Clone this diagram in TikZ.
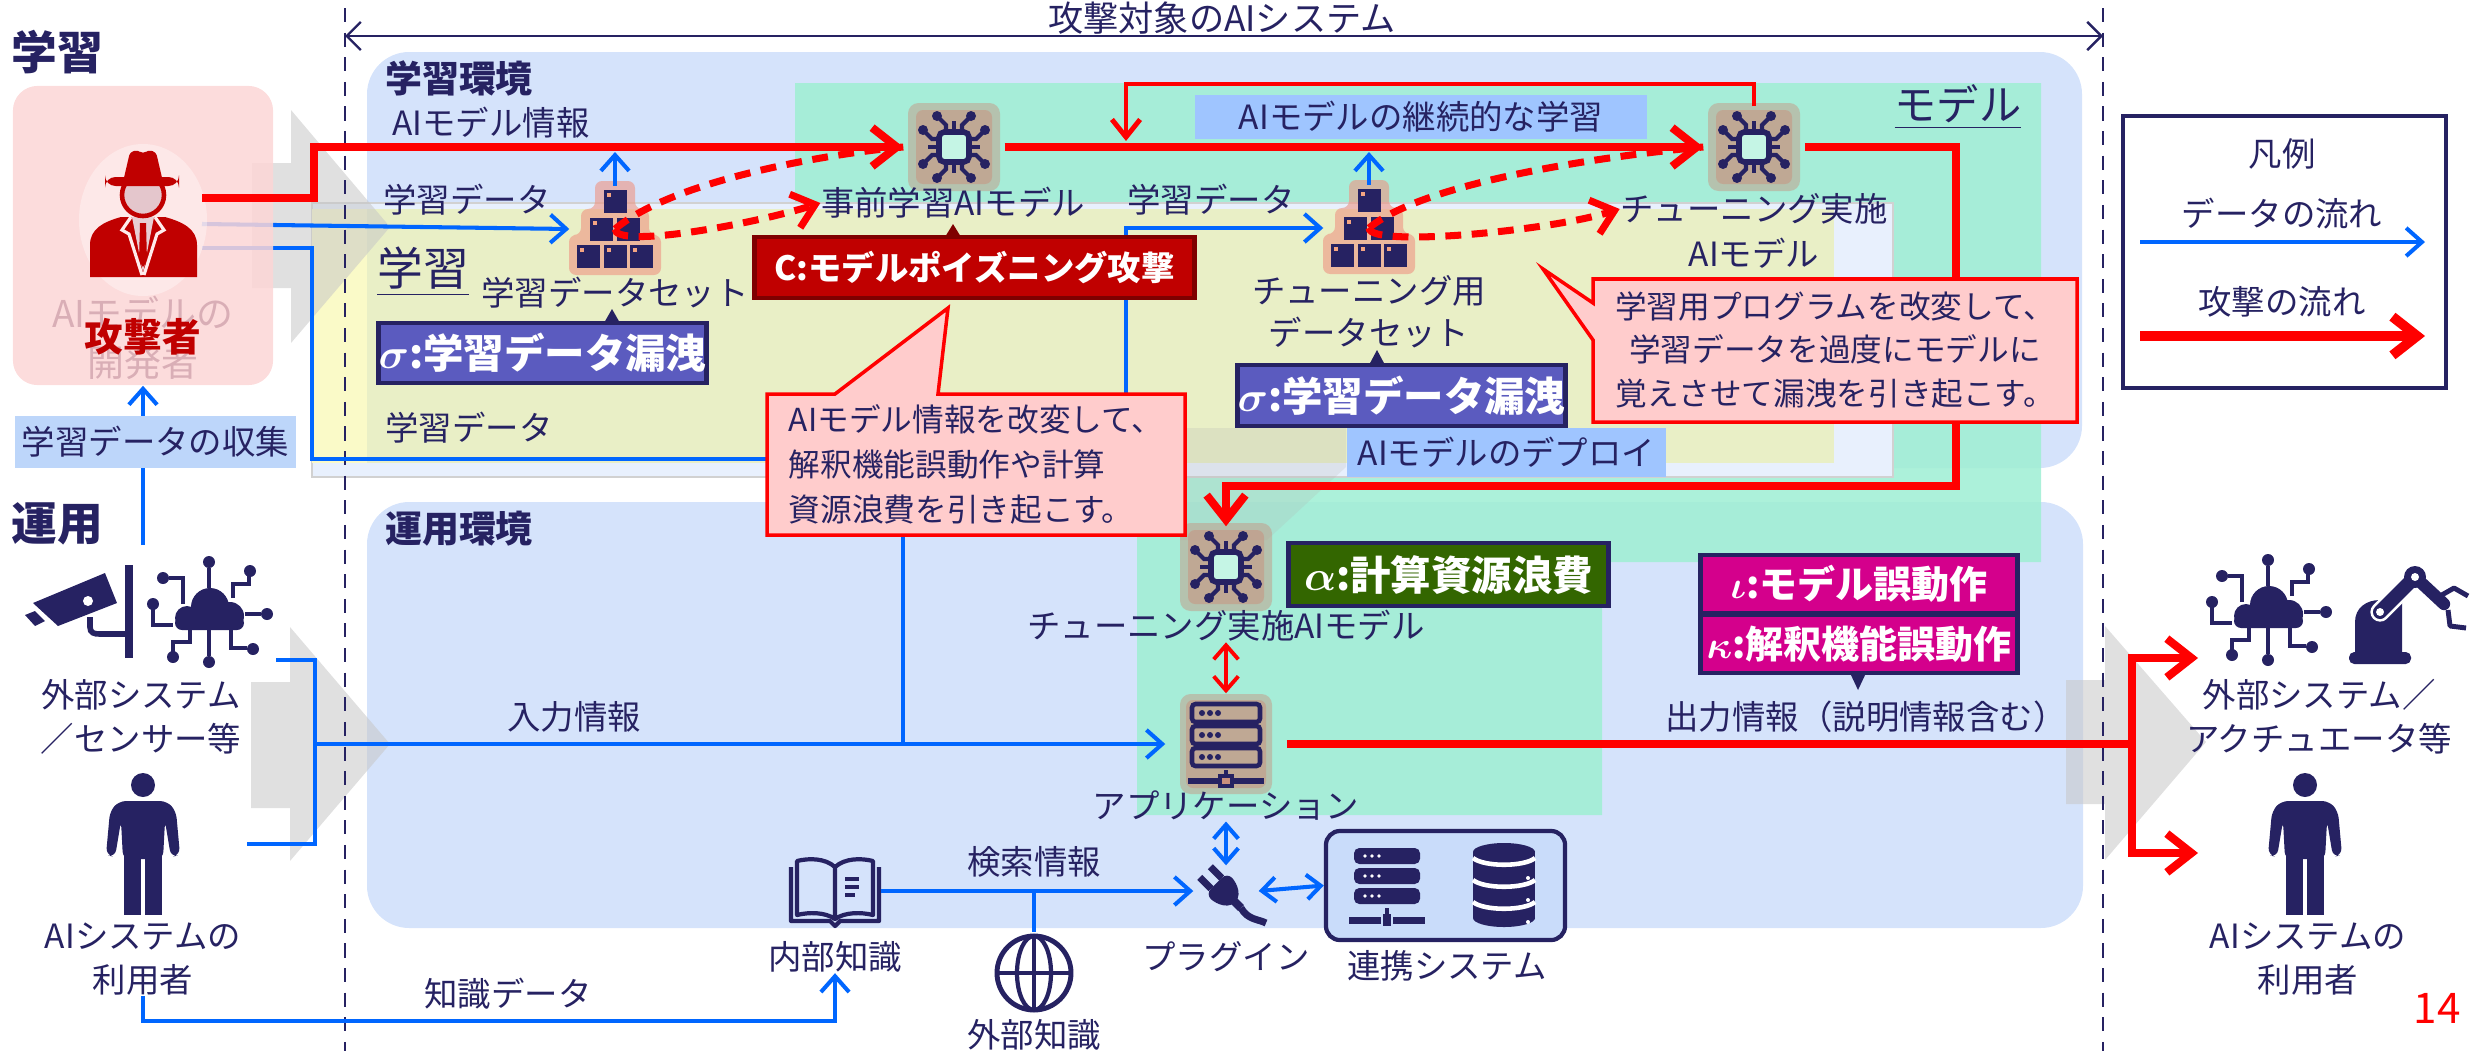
\documentclass[tikz,border=0pt]{standalone}
\usepackage{fontspec}
\usepackage{bm}
\setmainfont{Noto Sans CJK JP}
\usetikzlibrary{arrows.meta,positioning}

\definecolor{ink}{HTML}{262262}
\definecolor{flow}{HTML}{0066FF}
\definecolor{atk}{HTML}{FF0000}
\definecolor{envbg}{HTML}{D5E3FB}
\definecolor{mint}{HTML}{9EEFD3}
\definecolor{learnbg}{HTML}{E9EFC6}
\definecolor{palebg}{HTML}{FAFAC8}
\definecolor{tagbg}{HTML}{9FC5FF}
\definecolor{collbg}{HTML}{BDD6FA}
\definecolor{linkbg}{HTML}{C9DCFA}
\definecolor{notebg}{HTML}{FFCCCC}
\definecolor{poison}{HTML}{C00000}
\definecolor{poisonedge}{HTML}{7F0000}
\definecolor{leak}{HTML}{5B5BBF}
\definecolor{waste}{HTML}{336600}
\definecolor{misb}{HTML}{D4008C}
\definecolor{halo}{HTML}{C98F7C}
\definecolor{halotwo}{HTML}{EE9482}
\definecolor{accent}{HTML}{F4A582}
\definecolor{spybg}{HTML}{FCD6D6}
\definecolor{faded}{HTML}{D9AEB6}

\tikzset{
  lbl/.style={text=ink,inner sep=0pt,align=center,font=\fontsize{9.5}{12.5}\selectfont},
  ttl/.style={text=ink,inner sep=0pt,font=\fontsize{10.5}{12}\selectfont\bfseries},
  tag/.style={draw=ink,line width=1.4pt,text=white,inner sep=0pt,font=\fontsize{11.5}{13}\selectfont\bfseries},
  bluetag/.style={fill=tagbg,text=ink,inner sep=0pt,font=\fontsize{9.5}{12}\selectfont},
  spot/.style={inner sep=0pt,minimum width=1cm,minimum height=.8cm},
  dataflow/.style={draw=flow,line width=1.15pt,-{Straight Barb[length=4.5pt,width=8pt]}},
  dataline/.style={draw=flow,line width=1.15pt},
  databoth/.style={draw=flow,line width=1.15pt,{Straight Barb[length=4pt,width=7pt]}-{Straight Barb[length=4pt,width=7pt]}},
  atkflow/.style={draw=atk,line width=2.3pt,-{Straight Barb[length=7pt,width=11pt]}},
  atkthin/.style={draw=atk,line width=1.4pt,-{Straight Barb[length=5pt,width=8pt]}},
  atkboth/.style={draw=atk,line width=1.1pt,{Straight Barb[length=4pt,width=7pt]}-{Straight Barb[length=4pt,width=7pt]}},
  atkdash/.style={draw=atk,line width=2pt,dash pattern=on 4.5pt off 3pt},
  greyarrow/.style={fill=black!22,opacity=.55},
  chip/.pic={
    \fill[halo,opacity=.45,rounded corners=3pt] (-46,-44) rectangle (46,44);
    \fill[halo,opacity=.5,rounded corners=2pt] (-38,-37) rectangle (38,37);
    \draw[ink,line width=1.6pt,fill=mint!60!white,rounded corners=1.5pt] (-15,-15) rectangle (15,15);
    \foreach \r in {0,90,180,270}{
      \begin{scope}[rotate=\r]
        \draw[ink,line width=1.2pt] (0,-15) -- (0,-26);
        \draw[ink,line width=1.2pt] (-8,-15) -- (-8,-22) -- (-15,-29);
        \draw[ink,line width=1.2pt] (8,-15) -- (8,-22) -- (15,-29);
        \fill[ink] (-17,-31) circle (5);
        \fill[ink] (17,-31) circle (5);
      \end{scope}}
  },
  stack/.pic={
    \fill[halotwo,opacity=.6,rounded corners=2pt] (-20,-48) -- (20,-48) -- (20,-20) -- (34,-20) -- (34,6) -- (46,6) -- (46,46) -- (-46,46) -- (-46,6) -- (-34,6) -- (-34,-20) -- (-20,-20) -- cycle;
    \foreach \x/\y in {0/-28,-14/0,13/0,-27/27,0/27,26/27}{
      \fill[ink] (\x-11.5,\y-11.5) rectangle (\x+11.5,\y+11.5);
      \fill[accent] (\x-8,\y-8) rectangle (\x-4,\y-4);
    }
  },
  server/.pic={
    \fill[halo,opacity=.45,rounded corners=3pt] (-46,-50) rectangle (46,50);
    \fill[halo,opacity=.5,rounded corners=2pt] (-40,-44) rectangle (40,44);
    \foreach \k in {0,1,2}{
      \draw[ink,line width=1.3pt,rounded corners=1pt] (-34,-40+22*\k) rectangle (34,-22+22*\k);
      \foreach \d in {-24,-16,-8} \fill[ink] (\d,-31+22*\k) circle (3);
    }
    \draw[ink,line width=1.3pt] (0,26) -- (0,33);
    \draw[ink,line width=1.6pt] (-38,37) -- (38,37);
    \draw[ink,line width=1.2pt,fill=halo] (-6,32) rectangle (6,42);
  },
  plug/.pic={
    \begin{scope}[rotate=45]
      \fill[ink,rounded corners=2pt] (-15,-8) -- (15,-8) -- (15,6) -- (6,19) -- (-6,19) -- (-15,6) -- cycle;
      \fill[ink] (-11,-24) rectangle (-4,-8);
      \fill[ink] (4,-24) rectangle (11,-8);
      \draw[ink,line width=2.4pt] (0,17) -- (0,27);
    \end{scope}
    \draw[ink,line width=2pt] (19,19) .. controls (26,31) and (36,30) .. (44,34);
  },
  book/.pic={
    \draw[ink,line width=1.2pt,line join=round] (-44,-24) -- (-44,30) -- (-5,30) -- (0,35) -- (5,30) -- (44,30) -- (44,-24);
    \draw[ink,line width=1.2pt,line join=round] (0,-24) .. controls (-10,-33) and (-26,-33) .. (-38,-30) -- (-38,24) .. controls (-26,21) and (-10,21) .. (0,28) .. controls (10,21) and (26,21) .. (38,24) -- (38,-30) .. controls (26,-33) and (10,-33) .. (0,-24) -- (0,28);
    \foreach \y/\w in {-12/24,-4/24,4/20} \draw[ink,line width=1.2pt] (10,\y) -- (\w,\y);
  },
  globe/.pic={
    \draw[ink,line width=1.4pt] (0,0) circle (37);
    \draw[ink,line width=1.2pt] (0,0) ellipse (17 and 37);
    \draw[ink,line width=1.2pt] (0,-37) -- (0,37) (-37,0) -- (37,0);
  },
  rack/.pic={
    \foreach \k in {0,1,2}{
      \fill[ink,rounded corners=1.5pt] (-33,-36+20*\k) rectangle (33,-20+20*\k);
      \foreach \d in {-22,-15,-8} \fill[white] (\d,-28+20*\k) circle (1.8);
    }
    \draw[ink,line width=1.3pt] (0,24) -- (0,36);
    \fill[ink] (-38,33) rectangle (-6,40);
    \fill[ink] (6,33) rectangle (38,40);
    \fill[ink] (-4,30) rectangle (4,42);
  },
  dbstack/.pic={
    \fill[ink] (0,-32) ellipse (31 and 9);
    \fill[ink] (-31,-32) rectangle (31,34);
    \fill[ink] (0,34) ellipse (31 and 9);
    \foreach \y in {-26,-4,18}
      \draw[white,line width=1.3pt] (-31,\y) .. controls (-20,\y+9) and (20,\y+9) .. (31,\y);
    \foreach \y in {-6,16,38} \fill[white] (24,\y) circle (2);
  },
  camera/.pic={
    \fill[ink] (-47,-2) -- (25,-32) -- (37,-2) -- (-22,21) -- cycle;
    \fill[ink] (-55,10) -- (-45,6) -- (-35,16) -- (-45,21) -- cycle;
    \fill[white] (8,-4) circle (5);
    \draw[ink,line width=1.6pt] (10,12) -- (10,22) .. controls (10,28) and (14,29) .. (20,29) -- (47,29);
    \fill[ink] (45,-40) rectangle (53,53);
  },
  cloudnet/.pic={
    \fill[ink] (-22,6) circle (12);
    \fill[ink] (1,-5) circle (19);
    \fill[ink] (21,4) circle (14);
    \fill[ink,rounded corners=2pt] (-34,4) rectangle (35,18);
    \begin{scope}[ink,line width=1.2pt]
      \draw (0,-24) -- (0,-44);
      \draw (-26,-8) -- (-26,-34) -- (-40,-34);
      \draw (24,-14) -- (24,-28) -- (40,-28) -- (40,-36);
      \draw (-56,-4) -- (-56,13) -- (-36,13);
      \draw (36,2) -- (52,2);
      \draw (0,18) -- (0,44);
      \draw (-19,18) -- (-19,30) -- (-36,30) -- (-36,40);
      \draw (22,18) -- (22,36) -- (38,36);
    \end{scope}
    \foreach \p in {(0,-50),(-46,-34),(41,-41),(-56,-8),(58,2),(0,50),(-36,45),(44,37)} \fill[ink] \p circle (6);
  },
  person/.pic={
    \fill[ink] (0,0) circle (12);
    \fill[ink,rounded corners=2pt] (-24,16) -- (24,16) -- (33,26) -- (37,70) -- (28,72) -- (22,36) -- (20,74) -- (-20,74) -- (-22,36) -- (-28,72) -- (-37,70) -- (-33,26) -- cycle;
    \fill[ink] (-19,70) rectangle (-2,130);
    \fill[ink] (2,70) rectangle (19,130);
  },
  robot/.pic={
    \fill[ink,rounded corners=1.5pt] (-31,32) rectangle (31,44);
    \fill[ink] (-25,32) -- (-25,2) .. controls (-25,-12) and (-14,-20) .. (0,-20) -- (22,-20) -- (22,32) -- cycle;
    \draw[white,line width=5.5pt,line cap=round] (0,-8) -- (35,-43);
    \draw[ink,line width=4pt,line cap=round] (0,-8) -- (35,-43);
    \fill[white] (0,-8) circle (4);
    \draw[ink,line width=3.5pt,line cap=round] (35,-43) -- (64,-16);
    \fill[ink] (35,-43) circle (11);
    \fill[white] (35,-43) circle (4);
    \draw[ink,line width=1.4pt,line join=round] (60,-24) -- (74,-32) -- (88,-24);
    \draw[ink,line width=1.4pt,line join=round] (68,-10) -- (70,6) -- (86,8);
  },
  spy/.pic={
    \fill[white,opacity=.35] (0,5) ellipse (64 and 76);
    \fill[poison] (-53,62) -- (-53,30) .. controls (-53,14) and (-40,7) .. (-22,2) -- (22,2) .. controls (40,7) and (54,14) .. (54,30) -- (54,62) -- cycle;
    \fill[faded!60!white] (-11,2) -- (11,2) -- (0,58) -- cycle;
    \fill[poison] (-3,8) -- (3,8) -- (4,46) -- (0,52) -- (-4,46) -- cycle;
    \draw[white!70!pink,line width=.9pt] (-12,2) -- (-21,15) -- (-14,19) -- (-1,60);
    \draw[white!70!pink,line width=.9pt] (12,2) -- (21,15) -- (14,19) -- (1,60);
    \draw[poison,line width=1.3pt,fill=faded!70!white] (0,-20) circle (21);
    \fill[poison,rounded corners=1pt] (-20,-33) -- (-13,-63) -- (-5,-65) -- (0,-61) -- (5,-65) -- (13,-63) -- (20,-33) -- cycle;
    \fill[poison,rounded corners=3pt] (-38,-38) rectangle (36,-29);
  },
}

\begin{document}
\begin{tikzpicture}[x=0.01cm,y=-0.01cm]
\useasboundingbox (0,0) rectangle (2470,1051);

% environments and model area
\fill[envbg,rounded corners=12pt] (367,52) rectangle (2082,468);
\fill[envbg,rounded corners=12pt] (367,502) rectangle (2083,928);
\fill[mint,opacity=.85] (795,83) -- (2041,83) -- (2041,562) -- (1602,562) -- (1602,815) -- (1137,815) -- (1137,470) -- (795,470) -- cycle;
\filldraw[fill=envbg!55!white,draw=black!18,line width=.8pt] (312,203) rectangle (1893,477);
\fill[learnbg] (312,209) rectangle (1834,463);
\fill[palebg] (312,209) rectangle (367,463);
\fill[black!30,opacity=.22] (1180,428) -- (1346,428) -- (1346,467) -- (1267,540) -- (1180,540) -- cycle;

\fill[greyarrow] (252,163) -- (291,163) -- (291,110) -- (390,227) -- (291,343) -- (291,288) -- (252,288) -- cycle;
\fill[greyarrow] (251,682) -- (290,682) -- (290,627) -- (390,744) -- (290,861) -- (290,808) -- (251,808) -- cycle;
\fill[greyarrow] (2066,680) -- (2105,680) -- (2105,626) -- (2206,742) -- (2105,860) -- (2105,804) -- (2066,804) -- cycle;

% system boundary
\draw[ink,line width=.7pt,dash pattern=on 4pt off 3pt] (345,8) -- (345,1051);
\draw[ink,line width=.7pt,dash pattern=on 4pt off 3pt] (2103,8) -- (2103,1051);
\coordinate (SYSL) at (345,36);
\coordinate (SYSR) at (2103,36);
\draw[ink,line width=.7pt,{Straight Barb[length=4pt,width=8pt]}-{Straight Barb[length=4pt,width=8pt]}] (SYSL) -- (SYSR);
\node[lbl,font=\fontsize{10}{12}\selectfont] (SYS) at (1222,18) {攻撃対象のAIシステム};

% icon spots
\node[spot] (CHIPA) at (954,147) {};
\node[spot] (CHIPB) at (1754,147) {};
\node[spot] (CHIPC) at (1226,567) {};
\node[spot,minimum width=.9cm,minimum height=.85cm] (DSA) at (615,229) {};
\node[spot,minimum width=.9cm,minimum height=.85cm] (DSB) at (1369,228) {};
\node[spot,minimum width=1.2cm,minimum height=1cm] (APP) at (1226,744) {};
\node[spot,minimum width=.64cm,minimum height=.5cm] (PLUG) at (1226,891) {};
\node[spot,minimum width=.9cm,minimum height=.7cm] (BOOK) at (835,891) {};
\node[spot,minimum size=.8cm] (GLOBE) at (1034,973) {};
\node[draw=ink,line width=1.2pt,fill=linkbg,rounded corners=4pt,inner sep=0pt,minimum width=2.39cm,minimum height=1.09cm] (LINK) at (1445.5,885.5) {};

% data from the developer side
\coordinate (DEVA) at (202,224);
\coordinate (DEVB) at (202,248);
\coordinate (LOWL) at (312,459);
\coordinate (LOWR) at (1126,459);
\draw[dataflow] (DEVA) -- (DSA.west);
\draw[dataflow] (DEVB) -| (LOWL) -- (LOWR) |- (DSB.west);

\node[fill=spybg,opacity=.85,rounded corners=7pt,inner sep=0pt,minimum width=2.6cm,minimum height=2.99cm] (SPYBOX) at (143,235.5) {};
\node[lbl,text=faded,font=\fontsize{10.5}{14}\selectfont] (DEVLBL) at (143,338) {AIモデルの\\開発者};
\pic at (143,215) {spy};
\node[lbl,text=poison,font=\fontsize{11}{13}\selectfont\bfseries] (SPYLBL) at (143,337) {攻撃者};

% titles
\node[ttl,font=\fontsize{13}{15}\selectfont\bfseries] (HEADL) at (57,52) {学習};
\node[ttl,font=\fontsize{13}{15}\selectfont\bfseries] (HEADO) at (57,524) {運用};
\node[ttl] (ENVL) at (459,78) {学習環境};
\node[ttl] (ENVO) at (459,529) {運用環境};
\node[lbl,font=\fontsize{13}{15}\selectfont] (LEARNT) at (423,272) {\underline{学習}};
\node[lbl,font=\fontsize{12}{14}\selectfont] (MODELT) at (1958,107) {\underline{モデル}};

% icons
\pic at (CHIPA) {chip};
\pic at (CHIPB) {chip};
\pic at (CHIPC) {chip};
\pic at (DSA) {stack};
\pic at (DSB) {stack};
\pic at (APP) {server};
\pic at (1222,889) {plug};
\pic at (BOOK) {book};
\pic at (GLOBE) {globe};
\pic at (1387,884) {rack};
\pic at (1504,884) {dbstack};
\pic at (80,605) {camera};
\pic at (209,612) {cloudnet};
\pic at (143,785) {person};
\pic at (2268,610) {cloudnet};
\pic at (2380,620) {robot};
\pic at (2305,785) {person};

% labels
\node[lbl] (MINFO) at (491,123) {AIモデル情報};
\node[lbl] (LDA) at (467,200) {学習データ};
\node[lbl] (LDB) at (469,428) {学習データ};
\node[lbl] (LDC) at (1211,200) {学習データ};
\node[lbl] (DSALBL) at (615,293) {学習データセット};
\node[lbl] (CHIPALBL) at (953,203) {事前学習AIモデル};
\node[lbl,font=\fontsize{9.5}{12}\selectfont] (DSBLBL) at (1369,312) {チューニング用\\データセット};
\node[lbl] (CHIPBLBL) at (1754,209) {チューニング実施};
\node[lbl] (CHIPBLBLB) at (1754,253) {AIモデル};
\node[lbl] (CHIPCLBL) at (1226,626) {チューニング実施AIモデル};
\node[lbl] (APPLBL) at (1226,806) {アプリケーション};
\node[lbl] (INLBL) at (574,717) {入力情報};
\node[lbl] (SEARCHLBL) at (1034,862) {検索情報};
\node[lbl] (PLUGLBL) at (1226,957) {プラグイン};
\node[lbl] (LINKLBL) at (1447,966) {連携システム};
\node[lbl] (BOOKLBL) at (835,957) {内部知識};
\node[lbl] (GLOBELBL) at (1034,1035) {外部知識};
\node[lbl] (KDLBL) at (508,994) {知識データ};
\node[lbl] (SENSLBL) at (141,717) {外部システム\\／センサー等};
\node[lbl] (USERL) at (143,959) {AIシステムの\\利用者};
\node[lbl] (ACTLBL) at (2319,717) {外部システム／\\アクチュエータ等};
\node[lbl] (USERR) at (2308,959) {AIシステムの\\利用者};
\node[lbl] (OUTLBL) at (1866,717) {出力情報（説明情報含む）};

% data flows
\coordinate (INFOA) at (615,152);
\coordinate (INFOB) at (1369,152);
\draw[dataflow] (DSA.north) -- (INFOA);
\draw[dataflow] (DSB.north) -- (INFOB);
\coordinate (SENSOUT) at (276,660);
\coordinate (USEROUT) at (247,844);
\coordinate (INJ) at (315,744);
\draw[dataline] (SENSOUT) -| (INJ) |- (USEROUT);
\draw[dataflow] (INJ) -- (APP.west);
\coordinate (FEEDA) at (903,744);
\coordinate (FEEDB) at (903,459);
\draw[dataline] (FEEDA) -- (FEEDB);
\draw[databoth] (APPLBL.south) -- (PLUG.north);
\draw[databoth] (PLUG.east) -- (LINK.west);
\draw[dataflow] (BOOK.east) -- (PLUG.west);
\coordinate (SEARCHJ) at (1034,891);
\draw[dataline] (SEARCHJ) -- (GLOBE.north);
\coordinate (KDTURN) at (835,1021);
\draw[dataflow] (USERL.south) |- (KDTURN) -- (BOOKLBL.south);
\coordinate (COLLECT) at (143,545);
\draw[dataflow] (COLLECT) -- (SPYBOX.south);
\node[fill=collbg,text=ink,inner sep=0pt,minimum width=2.81cm,minimum height=.52cm,font=\fontsize{9.5}{12}\selectfont] (COLLTAG) at (155.5,442) {学習データの収集};

% attack flows
\coordinate (ATKOUT) at (202,198);
\coordinate (ATKUP) at (314,147);
\draw[atkflow] (ATKOUT) -| (ATKUP) -- (CHIPA.west);
\draw[atkflow] (CHIPA.east) -- (CHIPB.west);
\coordinate (LOOPL) at (1126,84);
\coordinate (LOOPIN) at (1126,141);
\draw[atkthin] (CHIPB.north) |- (LOOPL) -- (LOOPIN);
\coordinate (DEPLOY) at (1956,486);
\draw[atkflow] (CHIPB.east) -| (DEPLOY) -| (CHIPC.north);
\draw[atkdash] (DSA.center) .. controls +(60,-50) and +(-70,6) .. (CHIPA.west);
\draw[atkdash,-{Straight Barb[length=6pt,width=10pt]}] (DSA.center) .. controls +(0,20) and +(-70,22) .. (CHIPALBL.west);
\draw[atkdash] (DSB.center) .. controls +(60,-50) and +(-70,6) .. (CHIPB.west);
\draw[atkdash,-{Straight Barb[length=6pt,width=10pt]}] (DSB.center) .. controls +(0,20) and +(-70,22) .. (CHIPBLBL.west);
\draw[atkboth] (CHIPCLBL.south) -- (APP.north);
\coordinate (OUTJ) at (2132,744);
\coordinate (OUTA) at (2198,658);
\coordinate (OUTB) at (2198,853);
\draw[atk,line width=2.3pt] (APP.east) -- (OUTJ);
\draw[atkflow] (OUTJ) |- (OUTA);
\draw[atkflow] (OUTJ) |- (OUTB);

% blue captions
\node[bluetag,minimum width=4.52cm,minimum height=.44cm] (CONT) at (1421,117) {AIモデルの継続的な学習};
\node[bluetag,minimum width=3.19cm,minimum height=.49cm] (DEPLOYTAG) at (1506.5,452.5) {AIモデルのデプロイ};

% notes
\filldraw[fill=notebg,draw=atk,line width=1pt] (767,394) -- (835,394) -- (948,308) -- (938,394) -- (1185,394) -- (1185,535) -- (767,535) -- cycle;
\node[lbl,align=left,font=\fontsize{9}{12.8}\selectfont] (NOTEA) at (976,464.5) {AIモデル情報を改変して、\\解釈機能誤動作や計算\\資源浪費を引き起こす。};
\filldraw[fill=notebg,draw=atk,line width=1pt] (1593,279) -- (2077,279) -- (2077,422) -- (1593,422) -- (1593,340) -- (1543,269) -- (1593,303) -- cycle;
\node[lbl,font=\fontsize{9}{12.5}\selectfont] (NOTEB) at (1835,350) {学習用プログラムを改変して、\\学習データを過度にモデルに\\覚えさせて漏洩を引き起こす。};

% threat tags
\fill[poisonedge] (945,237) -- (953,224) -- (961,237) -- cycle;
\node[tag,fill=poison,draw=poisonedge,font=\fontsize{9.5}{12}\selectfont\bfseries,minimum width=4.39cm,minimum height=.61cm] (POISON) at (974.5,267.5) {C:モデルポイズニング攻撃};
\fill[ink] (604,323) -- (612,309) -- (620,323) -- cycle;
\node[tag,fill=leak,minimum width=3.19cm,minimum height=.6cm] (SIGA) at (542.5,353) {$\bm{\sigma}$:学習データ漏洩};
\fill[ink] (1369,365) -- (1377,350) -- (1385,365) -- cycle;
\node[tag,fill=leak,minimum width=3.19cm,minimum height=.61cm] (SIGB) at (1401.5,395.5) {$\bm{\sigma}$:学習データ漏洩};
\node[tag,fill=waste,minimum width=3.19cm,minimum height=.63cm] (ALPHA) at (1448.5,574.5) {$\bm{\alpha}$:計算資源浪費};
\node[tag,fill=misb,font=\fontsize{10.8}{12}\selectfont\bfseries,minimum width=3.16cm,minimum height=.58cm] (IOTA) at (1859,584) {$\bm{\iota}$:モデル誤動作};
\node[tag,fill=misb,font=\fontsize{10.8}{12}\selectfont\bfseries,minimum width=3.16cm,minimum height=.58cm] (KAPPA) at (1859,644) {$\bm{\kappa}$:解釈機能誤動作};
\fill[ink] (1850,673) -- (1858,690) -- (1866,673) -- cycle;

% legend
\node[draw=ink,line width=1.2pt,minimum width=3.23cm,minimum height=2.72cm] (LEG) at (2284.5,252) {};
\node[lbl] (LEGT) at (2282,154) {凡例};
\node[lbl] (LEGD) at (2282,214) {データの流れ};
\coordinate (LEGDA) at (2140,242);
\coordinate (LEGDB) at (2425,242);
\draw[dataflow] (LEGDA) -- (LEGDB);
\node[lbl] (LEGA) at (2282,302) {攻撃の流れ};
\coordinate (LEGAA) at (2140,336);
\coordinate (LEGAB) at (2425,336);
\draw[atkflow,line width=2.8pt] (LEGAA) -- (LEGAB);

\node[text=atk,inner sep=0pt,font=\fontsize{12}{14}\selectfont] (PAGE) at (2437,1008) {14};
\end{tikzpicture}
\end{document}
